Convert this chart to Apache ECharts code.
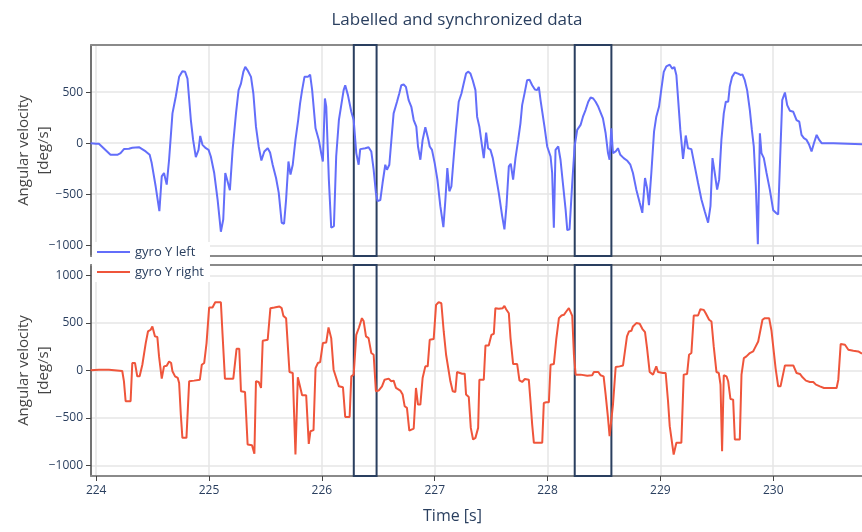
<!DOCTYPE html>
<html>
<head>
<meta charset="utf-8">
<script src="https://cdn.jsdelivr.net/npm/echarts@6/dist/echarts.min.js"></script>
<style>
  html, body { margin: 0; padding: 0; background: #fff; }
  #chart { width: 862px; height: 532px; }
</style>
</head>
<body>
<div id="chart"></div>
<script>
// Time window shown on the shared x axis (seconds)
const timeRange = [223.954, 230.787];
const timeTicks = [224, 225, 226, 227, 228, 229, 230];

// Value ranges of the two panels (deg/s)
const leftRange = [-1105, 962];
const rightRange = [-1111, 1108];
const leftTicks = [-1000, -500, 0, 500];
const rightTicks = [-1000, -500, 0, 500, 1000];

// Labelled segments [start, end] in seconds
const labelledRegions = [[226.283, 226.485], [228.241, 228.566]];

// gyro Y left: [time s, angular velocity deg/s]
const gyroLeft = [
  [223.950,0],[224.000,-5],[224.024,-5],[224.127,-114],[224.187,-114],[224.216,-97],[224.246,-58],[224.290,-55],[224.320,-45],[224.379,-39],[224.394,-49],[224.439,-81],[224.474,-114],[224.492,-195],[224.527,-422],[224.560,-666],[224.581,-325],[224.601,-292],[224.625,-406],[224.646,-162],[224.676,292],[224.705,455],[224.735,650],[224.764,705],[224.788,700],[224.809,633],[224.839,227],[224.859,32],[224.883,-136],[224.907,-65],[224.922,71],[224.942,-16],[224.972,-49],[224.996,-65],[225.016,-130],[225.046,-292],[225.076,-552],[225.105,-867],[225.126,-747],[225.144,-292],[225.164,-373],[225.185,-461],[225.209,-65],[225.239,292],[225.262,520],[225.283,584],[225.304,698],[225.321,747],[225.342,714],[225.372,650],[225.393,487],[225.416,162],[225.440,-32],[225.464,-169],[225.490,-81],[225.520,-49],[225.541,-91],[225.564,-211],[225.594,-341],[225.618,-487],[225.644,-779],[225.665,-789],[225.683,-552],[225.704,-179],[225.722,-308],[225.742,-211],[225.766,32],[225.790,227],[225.807,390],[225.825,520],[225.846,650],[225.876,650],[225.896,672],[225.914,520],[225.944,146],[225.973,32],[225.994,-97],[226.009,-179],[226.027,438],[226.039,357],[226.062,-357],[226.083,-828],[226.107,-812],[226.127,-130],[226.151,227],[226.172,373],[226.193,520],[226.207,568],[226.231,471],[226.261,308],[226.282,227],[226.305,-97],[226.326,-211],
  [226.340,-58],[226.385,-49],[226.414,-39],[226.438,-81],[226.459,-260],[226.479,-487],[226.494,-568],[226.518,-558],[226.538,-390],[226.562,-211],[226.577,-260],[226.598,-211],[226.621,97],[226.636,292],[226.666,406],[226.686,487],[226.704,568],[226.725,575],[226.745,552],[226.769,422],[226.793,357],[226.814,227],[226.837,162],[226.852,-32],[226.873,-162],[226.893,32],[226.917,156],[226.941,49],[226.956,-32],[226.976,-65],[227.000,-195],[227.024,-357],[227.050,-617],[227.077,-822],[227.095,-552],[227.112,-244],[227.130,-471],[227.148,-422],[227.169,-130],[227.189,130],[227.213,406],[227.237,487],[227.257,584],[227.278,682],[227.296,701],[227.317,682],[227.337,617],[227.361,520],[227.376,260],[227.396,162],[227.420,-32],[227.435,-146],[227.456,104],[227.473,-49],[227.494,-65],[227.515,-146],[227.538,-292],[227.568,-487],[227.598,-714],[227.618,-844],[227.636,-617],[227.657,-227],[227.674,-201],[227.695,-357],[227.716,-146],[227.740,32],[227.760,195],[227.775,373],[227.799,503],[227.819,617],[227.840,623],[227.864,568],[227.888,526],[227.908,520],[227.923,552],[227.938,422],[227.953,416],[227.973,162],[227.997,-32],[228.027,-130],[228.041,-292],[228.056,-828],[228.071,-65],[228.095,-32],[228.115,-162],[228.136,-390],[228.160,-649],[228.175,-851],[228.195,-844],[228.219,-390],[228.240,-32],[228.263,130],[228.293,179],[228.314,260],[228.337,325],[228.361,406],[228.382,448],[228.405,438],[228.426,406],[228.450,357],
  [228.491,243],[228.515,97],[228.536,-97],[228.550,-162],[228.565,146],[228.580,-97],[228.604,-81],[228.624,-49],[228.645,-114],[228.675,-146],[228.704,-169],[228.734,-211],[228.757,-292],[228.787,-455],[228.817,-584],[228.840,-682],[228.864,-341],[228.882,-438],[228.899,-607],[228.920,-292],[228.944,114],[228.964,260],[228.988,357],[229.009,532],[229.030,698],[229.053,753],[229.083,769],[229.106,730],[229.124,747],[229.142,666],[229.160,390],[229.177,130],[229.201,-153],[229.225,75],[229.245,-49],[229.275,-58],[229.305,-227],[229.334,-390],[229.364,-552],[229.393,-666],[229.423,-779],[229.444,-617],[229.462,-146],[229.482,-292],[229.503,-455],[229.521,-357],[229.541,32],[229.562,292],[229.580,406],[229.601,406],[229.615,552],[229.636,650],[229.660,692],[229.689,682],[229.710,669],[229.728,672],[229.748,617],[229.769,520],[229.793,325],[229.811,130],[229.828,-32],[229.846,-422],[229.864,-990],[229.882,97],[229.896,-97],[229.917,-146],[229.941,-292],[229.970,-455],[230.000,-656],[230.024,-682],[230.044,-698],[230.062,-130],[230.080,422],[230.104,497],[230.124,373],[230.148,318],[230.178,308],[230.207,227],[230.231,211],[230.251,81],[230.272,49],[230.296,32],[230.319,-16],[230.340,-81],[230.361,0],[230.385,81],[230.408,32],[230.429,0],[230.533,0],[230.787,-10]
];

// gyro Y right: [time s, angular velocity deg/s]
const gyroRight = [
  [223.950,0],[224.024,7],[224.113,7],[224.127,-7],[224.231,-7],[224.246,-115],[224.261,-325],[224.305,-325],[224.320,77],[224.344,77],[224.364,-63],[224.385,-63],[224.409,59],[224.424,66],[224.439,287],[224.459,409],[224.483,427],[224.498,462],[224.521,357],[224.542,350],[224.557,147],[224.581,-87],[224.601,42],[224.625,49],[224.646,94],[224.664,77],[224.676,-10],[224.699,-63],[224.723,-80],[224.735,-133],[224.750,-465],[224.764,-710],[224.800,-710],[224.824,-115],[224.868,-108],[224.883,-98],[224.919,-98],[224.936,59],[224.957,77],[224.978,287],[225.001,661],[225.031,661],[225.055,717],[225.105,717],[225.120,374],[225.141,-87],[225.215,-87],[225.224,7],[225.244,227],[225.268,227],[225.283,-220],[225.319,-227],[225.342,-780],[225.381,-787],[225.402,-878],[225.416,-115],[225.440,-122],[225.461,-185],[225.476,311],[225.520,322],[225.544,654],[225.579,661],[225.624,671],[225.644,654],[225.659,573],[225.683,549],[225.713,-17],[225.742,-28],[225.766,-885],[225.787,-73],[225.801,-63],[225.825,-262],[225.861,-262],[225.884,-773],[225.899,-640],[225.926,-629],[225.944,24],[225.965,77],[225.985,87],[226.009,287],[226.039,294],[226.059,451],[226.083,339],[226.104,7],[226.121,-10],[226.151,-168],[226.187,-178],[226.207,-490],[226.246,-490],[226.261,-63],[226.282,-45],[226.305,374],[226.329,451],
  [226.355,549],[226.370,520],[226.391,357],[226.414,339],[226.438,182],[226.459,164],[226.479,-220],[226.503,-213],[226.533,-168],[226.556,-98],[226.592,-87],[226.615,-115],[226.636,-108],[226.657,-185],[226.695,-213],[226.716,-255],[226.734,-378],[226.754,-395],[226.775,-633],[226.814,-612],[226.834,-185],[226.852,-360],[226.873,-360],[226.893,-80],[226.917,42],[226.938,42],[226.956,322],[226.991,329],[227.012,689],[227.035,717],[227.059,706],[227.080,409],[227.101,164],[227.118,164],[227.139,-115],[227.160,-220],[227.183,-227],[227.198,-17],[227.243,-35],[227.266,-35],[227.278,-255],[227.302,-280],[227.320,-605],[227.340,-727],[227.361,-710],[227.385,-605],[227.396,-98],[227.435,-98],[227.450,262],[227.479,262],[227.503,374],[227.524,385],[227.538,654],[227.568,647],[227.603,654],[227.618,678],[227.633,643],[227.657,601],[227.672,339],[227.695,66],[227.731,66],[227.751,-105],[227.775,-122],[227.799,-91],[227.834,-98],[227.849,-325],[227.864,-570],[227.879,-762],[227.953,-762],[227.967,-343],[227.988,-336],[228.012,-336],[228.027,59],[228.056,66],[228.077,322],[228.101,549],[228.124,577],[228.145,584],[228.166,619],[228.189,654],[228.204,636],[228.219,573],[228.234,164],[228.249,-45],[228.293,-45],[228.352,-56],[228.396,-52],[228.411,-17],[228.450,-17],[228.470,-52],[228.497,-63],[228.515,-255],[228.536,-500],[228.550,-692],[228.580,-360],[228.604,35],[228.639,42],[228.669,52],[228.686,59],[228.704,357],[228.722,409],[228.743,416],[228.757,462],[228.787,497],[228.817,490],[228.840,437],[228.864,402],[228.882,234],[228.905,-17],[228.935,-45],[228.950,-45],[228.964,42],[228.979,-17],[229.024,-28],[229.047,-28],[229.068,-325],[229.083,-587],[229.098,-587],[229.118,-885],[229.142,-762],[229.186,-762],[229.207,-45],[229.237,-38],[229.254,164],[229.275,182],[229.296,577],[229.334,577],[229.355,643],[229.385,636],[229.402,601],[229.432,532],[229.453,514],[229.473,252],[229.497,-17],[229.518,-28],[229.533,-150],[229.547,-850],[229.562,-52],[229.586,-63],[229.601,-115],[229.621,-301],[229.645,-308],[229.660,-727],[229.704,-727],[229.719,-45],[229.740,129],[229.763,147],[229.793,182],[229.822,199],[229.837,234],[229.867,304],[229.882,311],[229.905,532],[229.926,549],[229.964,549],[229.985,416],[230.000,402],[230.021,24],[230.044,-168],[230.065,-168],[230.104,52],[230.178,52],[230.207,-28],[230.237,-38],[230.260,-73],[230.290,-108],[230.325,-122],[230.355,-122],[230.379,-150],[230.414,-168],[230.450,-185],[230.562,-185],[230.577,-98],[230.598,276],[230.636,269],[230.666,217],[230.710,206],[230.754,199],[230.787,175]
];

const FONT = 'Open Sans';
const INK = '#2a3f5f';
const GRID_COLOR = '#e6e6e6';
const FRAME = '#8a8a8a';
const AXIS_DARK = '#444';

const minusFmt = v => (v < 0 ? '\u2212' + Math.abs(v) : String(v));

function timeAxis(gridIndex, showLabels) {
  return {
    type: 'value', gridIndex, min: timeRange[0], max: timeRange[1],
    position: 'bottom',
    axisLine: { show: true, onZero: false, lineStyle: { color: FRAME, width: 2 } },
    axisTick: { show: true, inside: false, length: 5, customValues: timeTicks, lineStyle: { color: AXIS_DARK, width: 1 } },
    axisLabel: { show: showLabels, customValues: timeTicks, margin: 9, color: INK, fontFamily: FONT, fontSize: 12 },
    splitLine: { show: true, lineStyle: { color: GRID_COLOR, width: 1.5 } },
    name: showLabels ? 'Time [s]' : '',
    nameLocation: 'middle', nameGap: 32, nameMoveOverlap: false,
    nameTextStyle: { color: INK, fontFamily: FONT, fontSize: 16, padding: [0, 48, 0, 0] }
  };
}

function frameTop(gridIndex) {
  return {
    type: 'value', gridIndex, min: timeRange[0], max: timeRange[1], position: 'top',
    axisLine: { show: true, onZero: false, lineStyle: { color: FRAME, width: 2 } },
    axisTick: { show: false }, axisLabel: { show: false }, splitLine: { show: false }
  };
}

function valueAxis(gridIndex, range, ticks) {
  return {
    type: 'value', gridIndex, min: range[0], max: range[1],
    axisLine: { show: true, onZero: false, lineStyle: { color: AXIS_DARK, width: 1.5 } },
    axisTick: { show: true, inside: false, length: 5, customValues: ticks, lineStyle: { color: AXIS_DARK, width: 1 } },
    axisLabel: { customValues: ticks, margin: 8, color: INK, fontFamily: FONT, fontSize: 12, formatter: minusFmt },
    splitLine: { show: true, lineStyle: { color: GRID_COLOR, width: 1.5 } },
    name: 'Angular velocity\n[deg/s]', nameLocation: 'middle', nameRotate: 90, nameGap: 37,
    nameMoveOverlap: false,
    nameTextStyle: { color: AXIS_DARK, fontFamily: FONT, fontSize: 15, lineHeight: 20, align: 'center' }
  };
}

const regionArea = {
  silent: true,
  itemStyle: { color: 'rgba(0,0,0,0)', borderColor: INK, borderWidth: 2 },
  data: labelledRegions.map(r => [{ xAxis: r[0] }, { xAxis: r[1] }])
};

const chart = echarts.init(document.getElementById('chart'), null, { renderer: 'canvas' });
chart.setOption({
  animation: false,
  backgroundColor: '#fff',
  textStyle: { fontFamily: FONT },
  title: {
    text: 'Labelled and synchronized data', left: 452, top: 7, textAlign: 'center',
    textStyle: { color: INK, fontFamily: FONT, fontSize: 17, fontWeight: 'normal' }
  },
  legend: {
    orient: 'vertical', left: 92, top: 242, z: 10,
    icon: 'rect', itemWidth: 33, itemHeight: 2, itemGap: 6,
    backgroundColor: '#fff', padding: [3, 6, 3, 5],
    textStyle: { color: INK, fontFamily: FONT, fontSize: 13, lineHeight: 14 },
    data: ['gyro Y left', 'gyro Y right']
  },
  grid: [
    { left: 91, right: 0, top: 45, height: 211, outerBoundsMode: 'none', containLabel: false },
    { left: 91, right: 0, top: 265, height: 211, outerBoundsMode: 'none', containLabel: false }
  ],
  xAxis: [timeAxis(0, false), timeAxis(1, true), frameTop(0), frameTop(1)],
  yAxis: [valueAxis(0, leftRange, leftTicks), valueAxis(1, rightRange, rightTicks)],
  series: [
    {
      name: 'gyro Y left', type: 'line', xAxisIndex: 0, yAxisIndex: 0,
      data: gyroLeft, showSymbol: false, color: '#636efa',
      lineStyle: { width: 2, color: '#636efa' }, markArea: regionArea
    },
    {
      name: 'gyro Y right', type: 'line', xAxisIndex: 1, yAxisIndex: 1,
      data: gyroRight, showSymbol: false, color: '#ef553b',
      lineStyle: { width: 2, color: '#ef553b' }, markArea: regionArea
    }
  ]
});
</script>
</body>
</html>
